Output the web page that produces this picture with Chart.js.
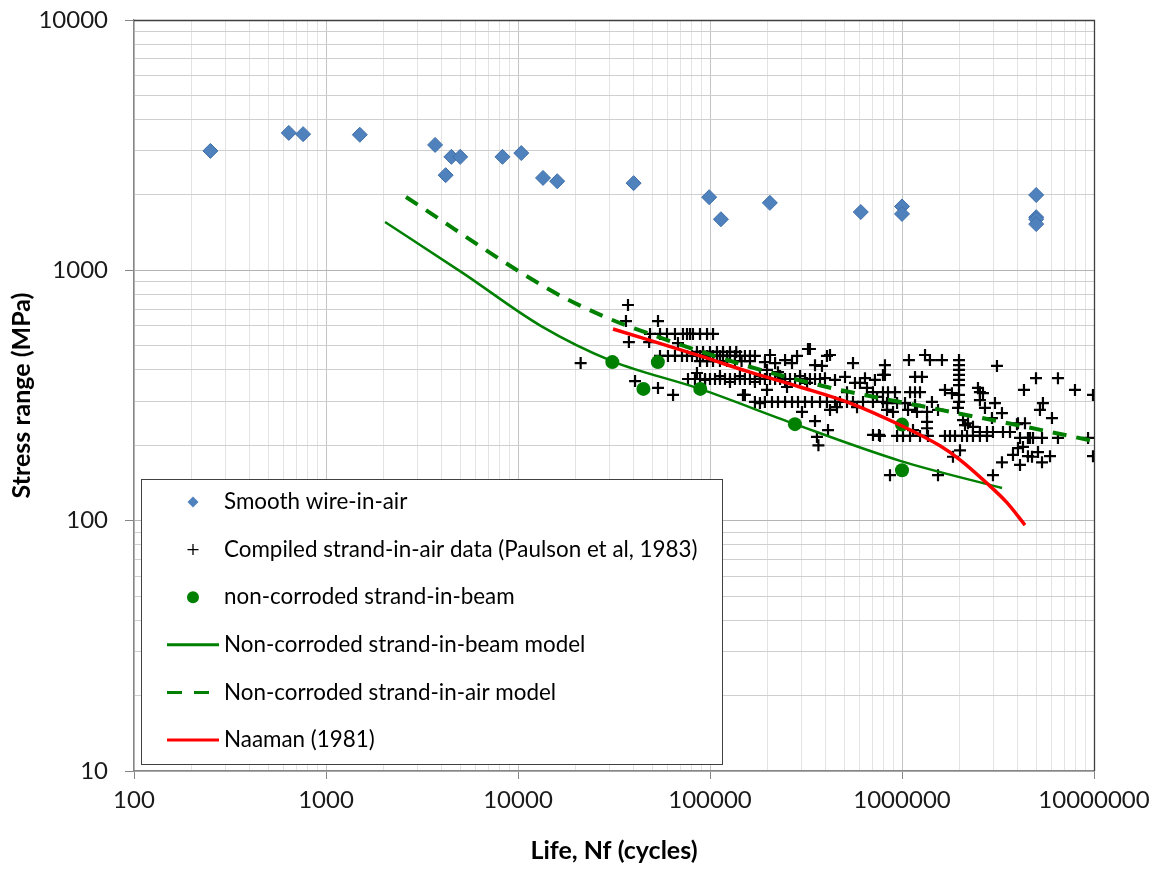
<!DOCTYPE html>
<html>
<head>
<meta charset="utf-8">
<title>Stress range vs fatigue life</title>
<script src="https://cdn.jsdelivr.net/npm/chart.js@4.4.1/dist/chart.umd.min.js"></script>
<style>
  html, body { margin: 0; padding: 0; background: #fff; }
</style>
</head>
<body>
<canvas id="snChart" width="1157" height="869"></canvas>
<script>
// [cycles to failure, stress range in MPa]
const wireInAir = [
  [250, 3000], [640, 3540], [760, 3500], [1500, 3480], [3700, 3170], [4200, 2400],
  [4500, 2840], [5000, 2840], [8300, 2840], [10400, 2940], [13500, 2340], [16000, 2270],
  [40000, 2230], [99000, 1960], [114000, 1600], [205000, 1860], [610000, 1710],
  [1000000, 1800], [1000000, 1680], [5000000, 2000], [5000000, 1630], [5000000, 1600], [5000000, 1530]
];

const strandInAir = [
  [21200, 426], [36500, 627], [37400, 727], [37800, 517], [40700, 361], [48200, 517], [53600, 627],
  [53600, 339], [64200, 318], [68100, 512], [76800, 368], [85500, 389], [94200, 365],
  [48700, 557], [54900, 557], [59700, 557], [65700, 557], [72300, 557], [75900, 557], [78700, 557],
  [81500, 557], [88700, 557], [96500, 557], [103700, 557],
  [54900, 455], [60400, 455], [65700, 455], [71500, 455], [75900, 455], [80600, 455], [85500, 455],
  [88700, 455], [92000, 455], [96500, 455], [100000, 455], [103700, 455], [108700, 455], [112700, 455],
  [116900, 455], [122700, 455], [127100, 455], [134900, 455], [143200, 455], [152000, 455],
  [161500, 455], [171400, 455],
  [85500, 472], [92000, 472], [100000, 472], [108700, 472], [116900, 472], [127100, 472], [137000, 472],
  [88700, 434], [96500, 434], [103700, 434], [112700, 434], [122700, 434], [134900, 434], [146000, 434],
  [161500, 434],
  [193200, 430], [198100, 400], [205400, 459], [218300, 426], [226000, 392], [246000, 438], [267400, 426],
  [284000, 455], [323900, 485], [331600, 485], [352300, 418], [383000, 415], [406600, 455], [421700, 459],
  [555600, 426], [815000, 418], [796000, 382],
  [83500, 368], [88700, 368], [94200, 368], [100000, 368], [106200, 368], [112700, 368], [119700, 368],
  [127100, 368], [134900, 368], [143200, 368], [152000, 368], [161500, 368], [171400, 368], [182000, 368],
  [193200, 368], [205400, 368], [218300, 368], [231700, 368], [246000, 368], [261000, 368], [277300, 368],
  [294400, 368], [312500, 368], [331600, 368], [352300, 368], [374000, 368],
  [112700, 378], [143200, 378], [182000, 378], [231700, 378], [294400, 378], [127100, 358], [171400, 358],
  [246000, 358],
  [397000, 371], [447700, 365], [504800, 375], [569000, 355], [641500, 371], [722800, 365],
  [148500, 318], [152000, 318], [182000, 295], [198100, 333], [251800, 342], [320200, 355], [517000, 326],
  [604000, 355], [657000, 339], [706000, 326], [740700, 312],
  [171400, 298], [193200, 298], [210300, 298], [226000, 298], [246000, 298], [267400, 298], [287300, 298],
  [312500, 298], [339700, 298], [374000, 298], [406600, 298], [447700, 298], [475400, 298], [517000, 298],
  [555600, 298], [626500, 298], [706000, 298], [796000, 298],
  [301400, 272], [352300, 250], [360600, 216], [367000, 200], [411800, 230], [421700, 277], [458400, 284],
  [583100, 284], [706000, 220], [758800, 220], [835500, 277],
  [815000, 382], [1087000, 438], [1318000, 459], [1398000, 438], [1615000, 438], [1981000, 438],
  [1981000, 418], [1981000, 400], [1981000, 382], [1981000, 365], [1981000, 348], [1981000, 318],
  [1981000, 298], [1957000, 282],
  [1169000, 375], [1271000, 375], [2487000, 339], [2546000, 326],
  [796000, 326], [845300, 326], [920000, 326], [1101000, 326], [1169000, 326], [1241000, 326],
  [1674000, 333], [1820000, 323],
  [835500, 295], [942400, 295], [1037000, 295], [1169000, 290], [1432000, 298], [1540000, 277],
  [1350000, 272], [898000, 272], [1075000, 277], [1197000, 272], [2546000, 303], [2704000, 282],
  [767700, 218], [942400, 218], [1012000, 218], [1101000, 218], [1241000, 218], [1365000, 218],
  [1674000, 218], [1778000, 218], [1888000, 218], [2054000, 218], [2181000, 218], [2342000, 218],
  [2546000, 218], [2771000, 218],
  [1350000, 248], [1350000, 234], [2129000, 241], [2207000, 245], [2342000, 237], [2079000, 252],
  [1141000, 230], [1843000, 180], [2005000, 191], [865900, 152], [1540000, 152],
  [3123000, 415], [4988000, 371], [6490000, 371], [4318000, 333], [7960000, 333], [9880000, 318],
  [2641000, 323], [3049000, 295], [3316000, 269], [2941000, 257], [5420000, 295], [5230000, 277],
  [6040000, 257], [3970000, 243], [4018000, 245], [4370000, 245],
  [2546000, 226], [2771000, 226], [2977000, 226], [3357000, 226], [3652000, 226],
  [4117000, 214], [4529000, 214], [4641000, 214], [4813000, 214], [5360000, 214], [6490000, 214],
  [9310000, 214],
  [4018000, 195], [4267000, 197], [3785000, 183], [4529000, 181], [4754000, 180], [5110000, 188],
  [5900000, 181], [5360000, 171], [3316000, 171], [4117000, 167], [9880000, 181], [2977000, 152]
];

const strandInBeam = [
  [31000, 430], [45000, 336], [53500, 430], [89000, 336], [277000, 243], [1000000, 242], [1000000, 159]
];

const beamModel = [
  [2030, 1560], [5170, 975], [13200, 599], [30900, 434], [88700, 336], [277000, 243], [988000, 173], [3320000, 135]
];

const airModel = [
  [2610, 1963], [14700, 834], [27700, 657], [47000, 562], [156000, 415], [407000, 342], [1520000, 279],
  [3970000, 241], [10000000, 208]
];

const naaman = [
  [31250, 583], [88700, 455], [161500, 392], [294400, 342], [535800, 295], [977000, 241], [1578000, 199],
  [2005000, 175], [2771000, 141], [3520000, 118], [4370000, 96]
];

const xTickLabels = [100, 1000, 10000, 100000, 1000000, 10000000];
const yTickLabels = [10, 100, 1000, 10000];

const FONT = "Lato, 'Open Sans', 'Liberation Sans', sans-serif";

const toXY = arr => arr.map(([x, y]) => ({ x, y }));

function isDecade(v) {
  const l = Math.log10(v);
  return Math.abs(l - Math.round(l)) < 1e-6;
}

// 1..9 per decade so every minor gridline is present
function logTicks(min, max) {
  const ticks = [];
  for (let e = Math.floor(Math.log10(min)); e <= Math.ceil(Math.log10(max)); e++) {
    for (let m = 1; m <= 9; m++) {
      const v = m * Math.pow(10, e);
      if (v >= min * 0.999 && v <= max * 1.001) ticks.push({ value: v });
    }
  }
  return ticks;
}

function labelFor(list) {
  return v => list.some(t => Math.abs(t - v) / t < 1e-6) ? String(Math.round(v)) : '';
}

const frame = {
  id: 'frame',
  beforeDatasetsDraw(chart) {
    const { ctx, chartArea: a } = chart;
    ctx.save();
    ctx.strokeStyle = '#3f3f3f';
    ctx.lineWidth = 1.3;
    ctx.beginPath();
    ctx.moveTo(a.left, a.top + 0.5);
    ctx.lineTo(a.right + 0.5, a.top + 0.5);
    ctx.lineTo(a.right + 0.5, a.bottom);
    ctx.stroke();
    ctx.restore();
  }
};

const legendBox = {
  id: 'legendBox',
  afterDraw(chart) {
    const { ctx } = chart;
    const box = { x: 141, y: 479, w: 581, h: 285 };
    const rowY0 = 502, rowStep = 47.6, markX = 193, textX = 224;
    ctx.save();
    ctx.fillStyle = '#fff';
    ctx.fillRect(box.x, box.y, box.w, box.h);
    ctx.strokeStyle = '#404040';
    ctx.lineWidth = 1;
    ctx.strokeRect(box.x + 0.5, box.y + 0.5, box.w, box.h);
    ctx.font = '22.4px ' + FONT;
    ctx.textBaseline = 'middle';
    ctx.fillStyle = '#000';

    chart.data.datasets.forEach((ds, i) => {
      const y = rowY0 + i * rowStep;
      ctx.save();
      if (ds.showLine) {
        ctx.strokeStyle = ds.borderColor;
        ctx.lineWidth = 3;
        ctx.setLineDash(ds.borderDash ? [15, 12] : []);
        ctx.beginPath();
        ctx.moveTo(167, y);
        ctx.lineTo(ds.borderDash ? 209 : 219, y);
        ctx.stroke();
      } else if (ds.pointStyle === 'rectRot') {
        ctx.fillStyle = ds.backgroundColor;
        ctx.beginPath();
        ctx.moveTo(markX - 5.5, y); ctx.lineTo(markX, y - 5.5);
        ctx.lineTo(markX + 5.5, y); ctx.lineTo(markX, y + 5.5);
        ctx.closePath();
        ctx.fill();
      } else if (ds.pointStyle === 'cross') {
        ctx.strokeStyle = '#000';
        ctx.lineWidth = 1.3;
        ctx.beginPath();
        ctx.moveTo(markX - 5.5, y); ctx.lineTo(markX + 5.5, y);
        ctx.moveTo(markX, y - 5.5); ctx.lineTo(markX, y + 5.5);
        ctx.stroke();
      } else {
        ctx.fillStyle = ds.backgroundColor;
        ctx.beginPath();
        ctx.arc(markX, y, 6, 0, Math.PI * 2);
        ctx.fill();
      }
      ctx.restore();
      ctx.fillText(ds.label, textX, y);
    });
    ctx.restore();
  }
};

const ctx = document.getElementById('snChart').getContext('2d');
const snChart = new Chart(ctx, {
  type: 'scatter',
  data: {
    datasets: [
      {
        label: 'Smooth wire-in-air',
        data: toXY(wireInAir),
        pointStyle: 'rectRot',
        pointRadius: 7.5,
        backgroundColor: '#4F81BD',
        borderColor: '#3F6FA8',
        borderWidth: 1,
        order: 5
      },
      {
        label: 'Compiled strand-in-air data (Paulson et al, 1983)',
        data: toXY(strandInAir),
        pointStyle: 'cross',
        pointRadius: 6,
        borderColor: '#000',
        backgroundColor: '#000',
        borderWidth: 2.2,
        order: 4
      },
      {
        label: 'non-corroded strand-in-beam',
        data: toXY(strandInBeam),
        pointStyle: 'circle',
        pointRadius: 7,
        backgroundColor: '#008000',
        borderColor: '#008000',
        borderWidth: 0,
        order: 1
      },
      {
        label: 'Non-corroded strand-in-beam model',
        data: toXY(beamModel),
        showLine: true,
        pointRadius: 0,
        borderColor: '#008000',
        borderWidth: 2.5,
        cubicInterpolationMode: 'monotone',
        order: 3
      },
      {
        label: 'Non-corroded strand-in-air model',
        data: toXY(airModel),
        showLine: true,
        pointRadius: 0,
        borderColor: '#008000',
        borderWidth: 4,
        borderDash: [14, 10],
        cubicInterpolationMode: 'monotone',
        order: 2
      },
      {
        label: 'Naaman (1981)',
        data: toXY(naaman),
        showLine: true,
        pointRadius: 0,
        borderColor: '#FF0000',
        borderWidth: 3.5,
        cubicInterpolationMode: 'monotone',
        order: 0
      }
    ]
  },
  options: {
    responsive: false,
    animation: false,
    layout: { padding: { top: 20, right: 63, left: 0, bottom: 0 } },
    plugins: {
      legend: { display: false },
      tooltip: { enabled: false }
    },
    scales: {
      x: {
        type: 'logarithmic',
        min: 100,
        max: 10000000,
        afterBuildTicks: s => { s.ticks = logTicks(s.min, s.max); },
        afterFit: s => { s.height = 98; s.paddingLeft = 0; s.paddingRight = 0; },
        ticks: {
          autoSkip: false,
          maxRotation: 0,
          minRotation: 0,
          padding: 7,
          color: '#1a1a1a',
          font: { family: FONT, size: 24 },
          callback: labelFor(xTickLabels)
        },
        grid: {
          color: c => c.tick && isDecade(c.tick.value) ? '#c4c4c4' : '#e3e3e3',
          tickLength: 8,
          tickColor: c => c.tick && isDecade(c.tick.value) ? '#868686' : 'rgba(0,0,0,0)'
        },
        border: { color: '#868686', width: 1.3 },
        title: {
          display: true,
          text: 'Life, Nf (cycles)',
          color: '#000',
          font: { family: FONT, size: 25, weight: 'bold' },
          padding: { top: 0, bottom: 3 }
        }
      },
      y: {
        type: 'logarithmic',
        min: 10,
        max: 10000,
        afterBuildTicks: s => { s.ticks = logTicks(s.min, s.max); },
        afterFit: s => { s.width = 134; s.paddingTop = 0; s.paddingBottom = 0; },
        ticks: {
          autoSkip: false,
          padding: 17,
          color: '#1a1a1a',
          font: { family: FONT, size: 24 },
          callback: labelFor(yTickLabels)
        },
        grid: {
          color: c => c.tick && isDecade(c.tick.value) ? '#b4b4b4' : '#cfcfcf',
          tickLength: 9,
          tickColor: c => c.tick && isDecade(c.tick.value) ? '#868686' : 'rgba(0,0,0,0)'
        },
        border: { color: '#868686', width: 1.3 },
        title: {
          display: true,
          text: 'Stress range (MPa)',
          color: '#000',
          font: { family: FONT, size: 25, weight: 'bold' },
          padding: { top: 7, bottom: 0 }
        }
      }
    }
  },
  plugins: [frame, legendBox]
});
</script>
</body>
</html>
